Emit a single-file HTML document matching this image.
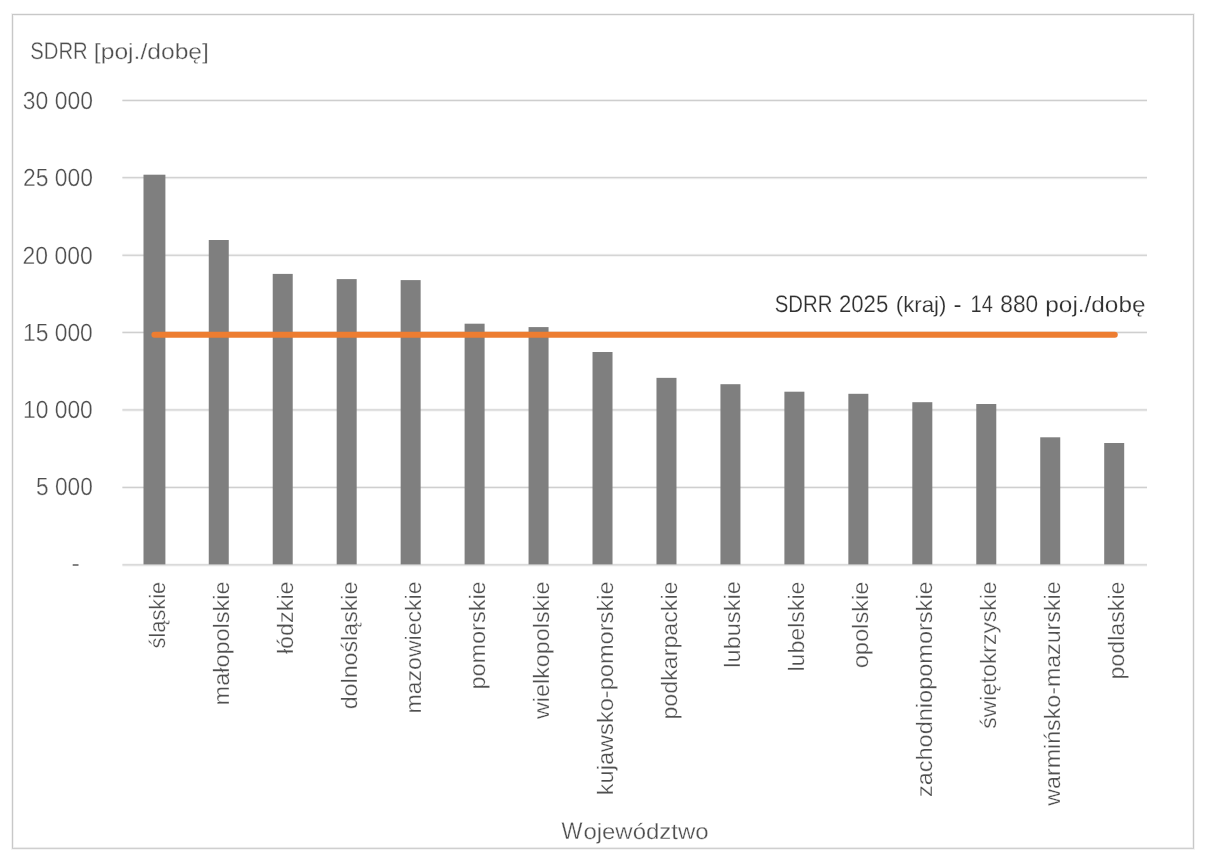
<!DOCTYPE html>
<html lang="pl"><head><meta charset="utf-8"><title>chart</title>
<style>html,body{margin:0;padding:0;background:#fff;}svg{display:block;}</style></head>
<body>
<svg width="1210" height="864" viewBox="0 0 1210 864" font-family="'Liberation Sans', sans-serif" font-size="23px" text-rendering="geometricPrecision">
<rect x="0" y="0" width="1210" height="864" fill="#ffffff"/>
<defs><filter id="soft" x="0" y="0" width="1210" height="864" filterUnits="userSpaceOnUse" color-interpolation-filters="sRGB"><feGaussianBlur stdDeviation="0.45"/></filter></defs><g filter="url(#soft)"><rect x="0" y="0" width="1210" height="864" fill="#ffffff"/>
<rect x="12.5" y="14.5" width="1181" height="833.85" fill="#ffffff" stroke="#c8c8c8" stroke-width="1"/>
<rect x="12.5" y="14.5" width="1181" height="833.85" fill="none" stroke="#f3f3f3" stroke-width="3"/>
<rect x="12.5" y="14.5" width="1181" height="833.85" fill="none" stroke="#c8c8c8" stroke-width="1"/>
<line x1="122.4" x2="1147.0" y1="100.45" y2="100.45" stroke="#f2f2f2" stroke-width="3"/>
<line x1="122.4" x2="1147.0" y1="177.7" y2="177.7" stroke="#f2f2f2" stroke-width="3"/>
<line x1="122.4" x2="1147.0" y1="255.25" y2="255.25" stroke="#f2f2f2" stroke-width="3"/>
<line x1="122.4" x2="1147.0" y1="332.4" y2="332.4" stroke="#f2f2f2" stroke-width="3"/>
<line x1="122.4" x2="1147.0" y1="409.95" y2="409.95" stroke="#f2f2f2" stroke-width="3"/>
<line x1="122.4" x2="1147.0" y1="487.4" y2="487.4" stroke="#f2f2f2" stroke-width="3"/>
<line x1="122.4" x2="1147.0" y1="564.9" y2="564.9" stroke="#f2f2f2" stroke-width="3"/>
<line x1="122.4" x2="1147.0" y1="100.45" y2="100.45" stroke="#cbcbcb" stroke-width="1"/>
<line x1="122.4" x2="1147.0" y1="177.7" y2="177.7" stroke="#cbcbcb" stroke-width="1"/>
<line x1="122.4" x2="1147.0" y1="255.25" y2="255.25" stroke="#cbcbcb" stroke-width="1"/>
<line x1="122.4" x2="1147.0" y1="332.4" y2="332.4" stroke="#cbcbcb" stroke-width="1"/>
<line x1="122.4" x2="1147.0" y1="409.95" y2="409.95" stroke="#cbcbcb" stroke-width="1"/>
<line x1="122.4" x2="1147.0" y1="487.4" y2="487.4" stroke="#cbcbcb" stroke-width="1"/>
<line x1="122.4" x2="1147.0" y1="564.9" y2="564.9" stroke="#cbcbcb" stroke-width="1"/>
<rect x="143.50" y="174.7" width="21.9" height="389.70" fill="#7f7f7f"/>
<rect x="208.76" y="240.0" width="20.0" height="324.40" fill="#7f7f7f"/>
<rect x="272.72" y="273.9" width="20.0" height="290.50" fill="#7f7f7f"/>
<rect x="336.68" y="279.1" width="20.0" height="285.30" fill="#7f7f7f"/>
<rect x="400.64" y="280.1" width="20.0" height="284.30" fill="#7f7f7f"/>
<rect x="464.60" y="323.7" width="20.0" height="240.70" fill="#7f7f7f"/>
<rect x="528.56" y="327.1" width="20.0" height="237.30" fill="#7f7f7f"/>
<rect x="592.52" y="352.0" width="20.0" height="212.40" fill="#7f7f7f"/>
<rect x="656.48" y="377.85" width="20.0" height="186.55" fill="#7f7f7f"/>
<rect x="720.44" y="384.2" width="20.0" height="180.20" fill="#7f7f7f"/>
<rect x="784.40" y="391.7" width="20.0" height="172.70" fill="#7f7f7f"/>
<rect x="848.36" y="393.8" width="20.0" height="170.60" fill="#7f7f7f"/>
<rect x="912.32" y="402.2" width="20.0" height="162.20" fill="#7f7f7f"/>
<rect x="976.28" y="404.0" width="20.0" height="160.40" fill="#7f7f7f"/>
<rect x="1040.24" y="437.3" width="20.0" height="127.10" fill="#7f7f7f"/>
<rect x="1104.20" y="443.0" width="20.0" height="121.40" fill="#7f7f7f"/>
<line x1="154.45" x2="1114.75" y1="334.75" y2="334.75" stroke="#ed7d31" stroke-width="6.1" stroke-linecap="round"/>
<text transform="translate(30.241,59.4) scale(0.8822,1.04)" fill="#4f4f4f" stroke="#ffffff" stroke-width="0.3">SDRR</text>
<text transform="translate(93.845,59.4) scale(1.0713,0.96)" fill="#4f4f4f" stroke="#ffffff" stroke-width="0.3">[poj./dobę]</text>
<text transform="translate(774.635,312.4) scale(0.887,1.04)" fill="#303030" stroke="#ffffff" stroke-width="0.2">SDRR</text>
<text transform="translate(838.928,312.4) scale(0.9633,1.04)" fill="#303030" stroke="#ffffff" stroke-width="0.2">2025</text>
<text transform="translate(895.801,312.4) scale(0.9675,0.96)" fill="#303030" stroke="#ffffff" stroke-width="0.2">(kraj)</text>
<text transform="translate(953.521,312.4) scale(1.052,0.96)" fill="#303030" stroke="#ffffff" stroke-width="0.2">-</text>
<text transform="translate(970.581,312.4) scale(0.8728,1.04)" fill="#303030" stroke="#ffffff" stroke-width="0.2">14</text>
<text transform="translate(1000.294,312.4) scale(0.9873,1.04)" fill="#303030" stroke="#ffffff" stroke-width="0.2">880</text>
<text transform="translate(1045.286,312.4) scale(1.059,0.96)" fill="#303030" stroke="#ffffff" stroke-width="0.2">poj./dobę</text>
<text transform="translate(561.581,838.5) scale(0.9656,1.04)" fill="#4f4f4f" stroke="#ffffff" stroke-width="0.3">W</text>
<text transform="translate(583.384,838.5) scale(1.0418,0.96)" fill="#4f4f4f" stroke="#ffffff" stroke-width="0.3">ojewództwo</text>
<text transform="translate(92.916,108.70) scale(0.9962,1.08)" text-anchor="end" fill="#4f4f4f" stroke="#ffffff" stroke-width="0.3">30 000</text>
<text transform="translate(92.887,185.95) scale(0.9938,1.08)" text-anchor="end" fill="#4f4f4f" stroke="#ffffff" stroke-width="0.3">25 000</text>
<text transform="translate(92.688,263.50) scale(0.9968,1.08)" text-anchor="end" fill="#4f4f4f" stroke="#ffffff" stroke-width="0.3">20 000</text>
<text transform="translate(92.829,340.85) scale(0.9924,1.08)" text-anchor="end" fill="#4f4f4f" stroke="#ffffff" stroke-width="0.3">15 000</text>
<text transform="translate(92.829,418.20) scale(0.9924,1.08)" text-anchor="end" fill="#4f4f4f" stroke="#ffffff" stroke-width="0.3">10 000</text>
<text transform="translate(92.751,495.25) scale(0.9853,1.08)" text-anchor="end" fill="#4f4f4f" stroke="#ffffff" stroke-width="0.3">5 000</text>
<rect x="72.7" y="564.3" width="5.8" height="1.4" fill="#4f4f4f"/>
<text transform="translate(165.20,648.513) rotate(-90) scale(0.9497,0.97)" fill="#4f4f4f" stroke="#ffffff" stroke-width="0.3">śląskie</text>
<text transform="translate(229.11,705.387) rotate(-90) scale(1.0202,0.97)" fill="#4f4f4f" stroke="#ffffff" stroke-width="0.3">małopolskie</text>
<text transform="translate(293.03,654.095) rotate(-90) scale(1.0145,0.97)" fill="#4f4f4f" stroke="#ffffff" stroke-width="0.3">łódzkie</text>
<text transform="translate(356.94,709.342) rotate(-90) scale(1.0093,0.97)" fill="#4f4f4f" stroke="#ffffff" stroke-width="0.3">dolnośląskie</text>
<text transform="translate(420.86,713.465) rotate(-90) scale(1.0023,0.97)" fill="#4f4f4f" stroke="#ffffff" stroke-width="0.3">mazowieckie</text>
<text transform="translate(484.77,689.583) rotate(-90) scale(1.0204,0.97)" fill="#4f4f4f" stroke="#ffffff" stroke-width="0.3">pomorskie</text>
<text transform="translate(548.69,719.001) rotate(-90) scale(1.0143,0.97)" fill="#4f4f4f" stroke="#ffffff" stroke-width="0.3">wielkopolskie</text>
<text transform="translate(612.61,795.291) rotate(-90) scale(1.0266,0.97)" fill="#4f4f4f" stroke="#ffffff" stroke-width="0.3">kujawsko-pomorskie</text>
<text transform="translate(676.52,719.565) rotate(-90) scale(1.0091,0.97)" fill="#4f4f4f" stroke="#ffffff" stroke-width="0.3">podkarpackie</text>
<text transform="translate(740.43,667.673) rotate(-90) scale(1.0241,0.97)" fill="#4f4f4f" stroke="#ffffff" stroke-width="0.3">lubuskie</text>
<text transform="translate(804.35,671.549) rotate(-90) scale(1.0060,0.97)" fill="#4f4f4f" stroke="#ffffff" stroke-width="0.3">lubelskie</text>
<text transform="translate(868.26,668.374) rotate(-90) scale(1.0291,0.97)" fill="#4f4f4f" stroke="#ffffff" stroke-width="0.3">opolskie</text>
<text transform="translate(932.18,797.074) rotate(-90) scale(1.0228,0.97)" fill="#4f4f4f" stroke="#ffffff" stroke-width="0.3">zachodniopomorskie</text>
<text transform="translate(996.10,728.786) rotate(-90) scale(0.9930,0.97)" fill="#4f4f4f" stroke="#ffffff" stroke-width="0.3">świętokrzyskie</text>
<text transform="translate(1060.01,805.651) rotate(-90) scale(1.0083,0.97)" fill="#4f4f4f" stroke="#ffffff" stroke-width="0.3">warmińsko-mazurskie</text>
<text transform="translate(1123.92,679.565) rotate(-90) scale(1.0084,0.97)" fill="#4f4f4f" stroke="#ffffff" stroke-width="0.3">podlaskie</text>
</g></svg>
</body></html>
